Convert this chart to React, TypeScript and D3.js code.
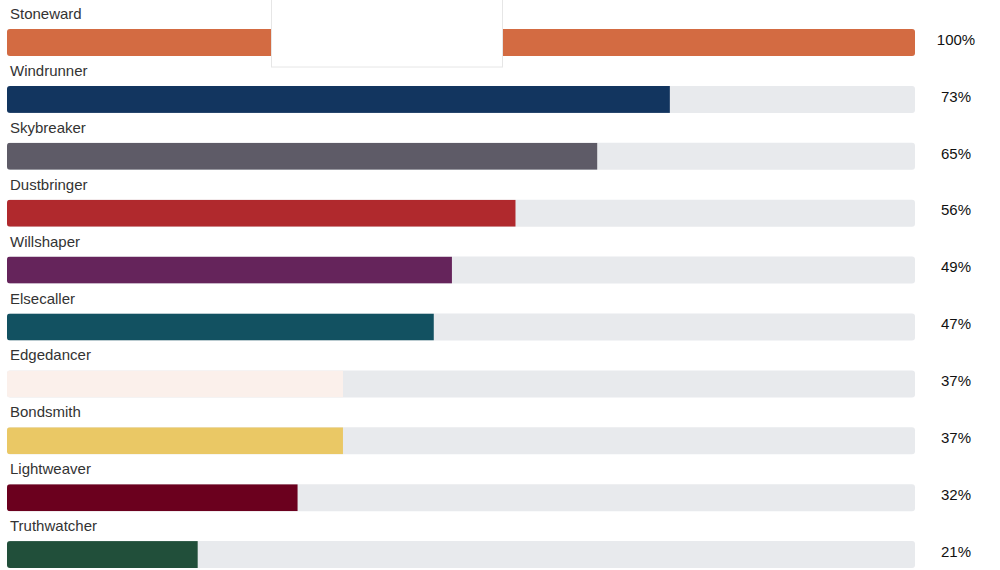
import { useEffect, useRef } from 'react'
import * as d3 from 'd3'

const names = ['Stoneward', 'Windrunner', 'Skybreaker', 'Dustbringer', 'Willshaper', 'Elsecaller', 'Edgedancer', 'Bondsmith', 'Lightweaver', 'Truthwatcher']
const values = [100, 73, 65, 56, 49, 47, 37, 37, 32, 21]
const colors = ['#d36b42', '#12355f', '#5e5b67', '#b0292d', '#65245b', '#125161', '#fbf0eb', '#eac865', '#6b001e', '#214f3a']

export default function App() {
  const svgRef = useRef<SVGSVGElement | null>(null)

  useEffect(() => {
    if (!svgRef.current) return
    const width = 1000
    const height = 570
    const barLeft = 7
    const barRight = 915
    const barH = 27

    const svg = d3.select(svgRef.current)
    svg.selectAll('*').remove()
    svg.attr('width', width).attr('height', height).attr('viewBox', `0 0 ${width} ${height}`)

    const y = d3.scaleBand<string>().domain(names).range([0, 569]).padding(0)
    const x = d3.scaleLinear().domain([0, 100]).range([barLeft, barRight])

    const data = names.map((n, i) => ({ name: n, value: values[i], color: colors[i], i }))

    const defs = svg.append('defs')
    defs.selectAll('clipPath')
      .data(data)
      .join('clipPath')
      .attr('id', d => `clip-${d.i}`)
      .append('rect')
      .attr('x', barLeft)
      .attr('y', d => (y(d.name) as number) + 29)
      .attr('width', barRight - barLeft)
      .attr('height', barH)
      .attr('rx', 3)

    const rows = svg.selectAll('.row')
      .data(data)
      .join('g')
      .attr('class', 'row')

    // label
    rows.append('text')
      .attr('x', 10)
      .attr('y', d => (y(d.name) as number) + 19)
      .attr('font-family', 'Liberation Sans, Arial, sans-serif')
      .attr('font-size', '15px')
      .attr('fill', '#333')
      .text(d => d.name)

    // track
    rows.append('rect')
      .attr('x', barLeft)
      .attr('y', d => (y(d.name) as number) + 29)
      .attr('width', barRight - barLeft)
      .attr('height', barH)
      .attr('rx', 3)
      .attr('fill', '#e8eaed')

    // fill
    rows.append('rect')
      .attr('clip-path', d => `url(#clip-${d.i})`)
      .attr('x', barLeft)
      .attr('y', d => (y(d.name) as number) + 29)
      .attr('width', d => x(d.value) - barLeft)
      .attr('height', barH)
      .attr('fill', d => d.color)

    // percent
    rows.append('text')
      .attr('x', 956)
      .attr('y', d => (y(d.name) as number) + 39.5)
      .attr('dy', '0.35em')
      .attr('text-anchor', 'middle')
      .attr('font-family', 'Liberation Sans, Arial, sans-serif')
      .attr('font-size', '15px')
      .attr('fill', '#111')
      .text(d => `${d.value}%`)

    // empty tooltip box
    svg.append('rect')
      .attr('x', 271.5)
      .attr('y', -2)
      .attr('width', 231)
      .attr('height', 69)
      .attr('fill', '#fff')
      .attr('stroke', '#e6e6e6')
      .attr('stroke-width', 1)
  }, [])

  return (
    <div style={{ position: 'fixed', left: 0, top: 0, width: 1000, height: 570, background: '#fff' }}>
      <svg ref={svgRef} style={{ display: 'block' }}></svg>
    </div>
  )
}
